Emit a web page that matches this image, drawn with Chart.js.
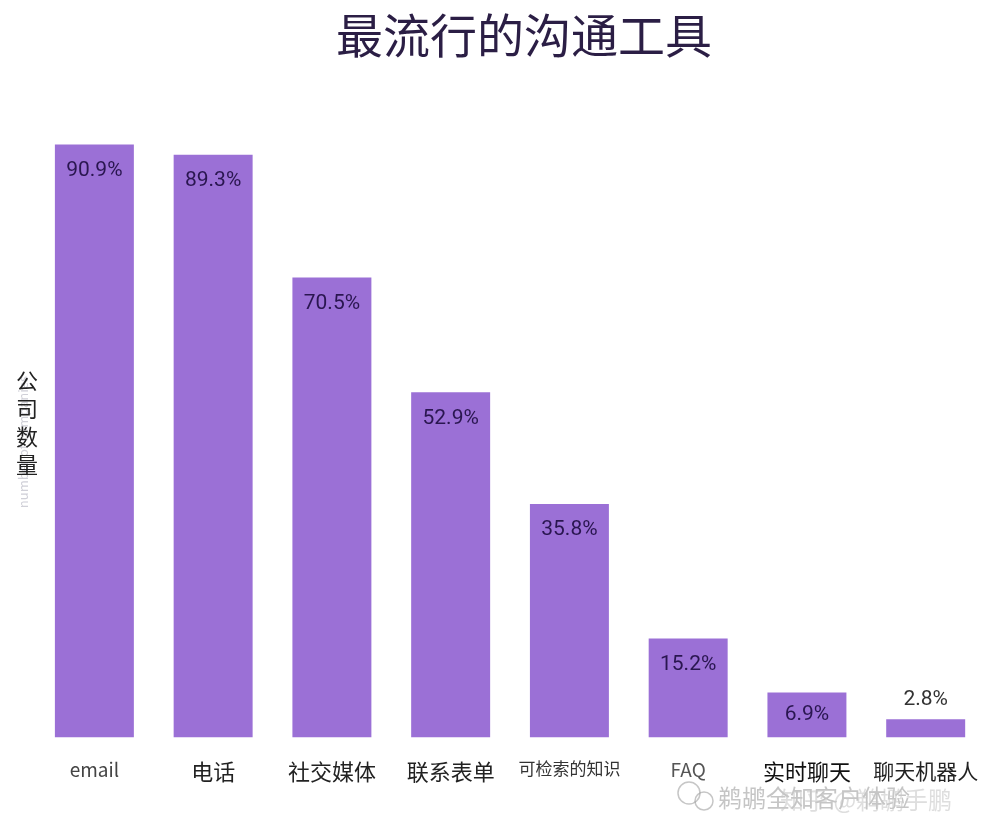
<!DOCTYPE html>
<html>
<head>
<meta charset="utf-8">
<script src="https://cdn.jsdelivr.net/npm/chart.js@4"></script>
<style>
	html, body { margin: 0; padding: 0; background: #fff; }
	#toolsChart { display: block; }
</style>
</head>
<body>
<canvas id="toolsChart" width="1000" height="840"></canvas>
<script>
// data
var categories = ['email', '电话', '社交媒体', '联系表单', '可检索的知识', 'FAQ', '实时聊天', '聊天机器人'];
var shareValues = [90.9, 89.3, 70.5, 52.9, 35.8, 15.2, 6.9, 2.8];
var titleText = '最流行的沟通工具';
var axisTitle = ['公', '司', '数', '量'];

var CJK = '"Noto Sans CJK SC", "Noto Sans", sans-serif';
// per-label font sizes, the original picture mixes them
var tickSizes = [19, 22, 22, 22, 17, 19, 22, 21];
var tickColors = ['#444', '#222', '#222', '#222', '#333', '#555', '#111', '#222'];

var labelPlugin = {
	id: 'barLabels',
	afterDatasetsDraw: function(chart) {
		var ctx = chart.ctx;
		var meta = chart.getDatasetMeta(0);
		ctx.save();
		ctx.font = '21px Roboto, ' + CJK;
		ctx.textAlign = 'center';
		ctx.textBaseline = 'middle';
		meta.data.forEach(function(bar, i) {
			var h = bar.base - bar.y;
			var txt = shareValues[i] + '%';
			if (h > 40) {
				ctx.fillStyle = '#2a1650';
				ctx.fillText(txt, bar.x, Math.min(bar.y + 26, bar.y + h / 2));
			} else {
				ctx.fillStyle = '#333';
				ctx.fillText(txt, bar.x, bar.y - 20);
			}
		});
		ctx.restore();
	},
	afterDraw: function(chart) {
		var ctx = chart.ctx;
		ctx.save();
		// title
		ctx.font = '47px ' + CJK;
		ctx.fillStyle = '#2b1e45';
		ctx.textAlign = 'center';
		ctx.textBaseline = 'middle';
		ctx.fillText(titleText, 524, 35);
		// faint english axis label behind
		ctx.save();
		ctx.translate(23, 442);
		ctx.rotate(-Math.PI / 2);
		ctx.font = '13px ' + CJK;
		ctx.fillStyle = '#d0d0d8';
		ctx.fillText('number of companies', 0, 0);
		ctx.restore();
		// stacked axis title
		ctx.font = '22px ' + CJK;
		ctx.fillStyle = '#222';
		axisTitle.forEach(function(ch, i) {
			ctx.fillText(ch, 27, 381 + i * 28);
		});
		// watermark
		ctx.font = '24px ' + CJK;
		ctx.fillStyle = 'rgba(150,150,150,0.55)';
		ctx.textAlign = 'left';
		ctx.fillText('鹈鹕全知客户体验', 718, 798);
		ctx.fillStyle = 'rgba(200,200,200,0.6)';
		ctx.fillText('知乎 @鹈鹕手鹏', 780, 800);
		ctx.strokeStyle = 'rgba(160,160,160,0.6)';
		ctx.lineWidth = 1.5;
		ctx.beginPath();
		ctx.arc(689, 793, 11, 0, Math.PI * 2);
		ctx.stroke();
		ctx.beginPath();
		ctx.arc(704, 801, 9, 0, Math.PI * 2);
		ctx.stroke();
		ctx.restore();
	}
};

var toolsChart = new Chart(document.getElementById('toolsChart'), {
	type: 'bar',
	data: {
		labels: categories,
		datasets: [{
			data: shareValues,
			backgroundColor: '#9b70d6',
			borderWidth: 0,
			barPercentage: 0.665,
			categoryPercentage: 1.0
		}]
	},
	plugins: [labelPlugin],
	options: {
		responsive: false,
		animation: false,
		devicePixelRatio: 1,
		layout: {
			padding: { left: 35, right: 13, top: 85, bottom: 34 }
		},
		plugins: {
			legend: { display: false },
			tooltip: { enabled: false },
			title: { display: false }
		},
		scales: {
			y: {
				display: false,
				min: 0,
				max: 100
			},
			x: {
				grid: { display: false, drawTicks: false },
				border: { display: false },
				ticks: {
					padding: 21,
					autoSkip: false,
					maxRotation: 0,
					color: function(c) { return tickColors[c.index]; },
					font: function(c) { return { family: CJK, size: tickSizes[c.index] }; }
				}
			}
		}
	}
});
</script>
</body>
</html>
